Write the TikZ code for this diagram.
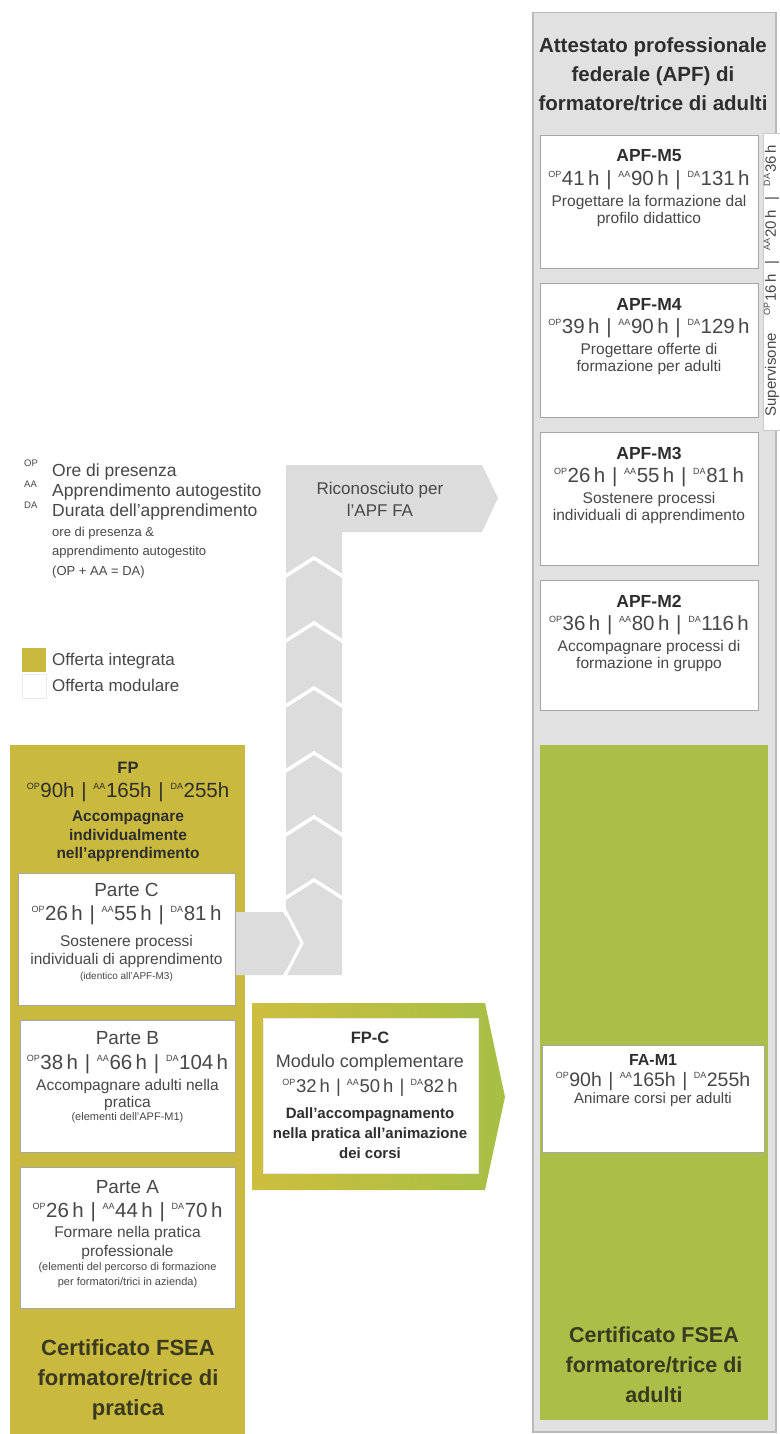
\documentclass[tikz,border=0pt]{standalone}
\usepackage{fontspec}
\setmainfont{Liberation Sans}
\definecolor{panelgray}{HTML}{E1E1E1}
\definecolor{panelline}{HTML}{B9B9B9}
\definecolor{arrowgray}{HTML}{DCDCDC}
\definecolor{fpyellow}{HTML}{C9B93E}
\definecolor{fagreen}{HTML}{ABBE47}
\definecolor{fpcl}{HTML}{CDBE3E}
\definecolor{fpcr}{HTML}{A6BF45}
\definecolor{txtcol}{HTML}{474747}
\definecolor{ttlcol}{HTML}{2E2E2E}
\definecolor{certcol}{HTML}{3A3A20}
\definecolor{boxline}{HTML}{A6A6A6}
\newcommand\sx[1]{\raisebox{0.38em}{\fontsize{9}{9}\selectfont #1}\kern0.6pt}
\newcommand\hsep{\hspace{0.33em}|\hspace{0.33em}}
\newcommand\hrs[3]{\sx{OP}#1\,h\hsep\sx{AA}#2\,h\hsep\sx{DA}#3\,h}
\newcommand\hrsn[3]{\sx{OP}#1h\hsep\sx{AA}#2h\hsep\sx{DA}#3h}
\begin{document}
\begin{tikzpicture}[x=1pt,y=-1pt,
  txt/.style={inner sep=0pt, text=txtcol, align=center},
  ttl/.style={txt, text=ttlcol, font=\bfseries\fontsize{17.5}{20}\selectfont},
  hrsf/.style={txt, font=\fontsize{20.5}{22}\selectfont},
  dsc/.style={txt, font=\fontsize{15.5}{17.5}\selectfont},
  bdsc/.style={txt, text=ttlcol, font=\bfseries\fontsize{15.5}{18.5}\selectfont},
  note/.style={txt, font=\fontsize{10}{15}\selectfont},
  wbox/.style={draw=boxline, fill=white, line width=0.8pt, inner sep=0pt, anchor=north west},
  cert/.style={txt, text=certcol, font=\bfseries\fontsize{21.5}{30}\selectfont},
  leg/.style={inner sep=0pt, text=txtcol, anchor=west, font=\fontsize{17.5}{20}\selectfont},
  legs/.style={inner sep=0pt, text=txtcol, anchor=west, font=\fontsize{13}{15}\selectfont},
  legsup/.style={inner sep=0pt, text=txtcol, anchor=west, font=\fontsize{9.5}{10}\selectfont},
]
\useasboundingbox (0,0) rectangle (779,1434);
\fill[white] (0,0) rectangle (779,1434);

% ---------- right panel ----------
\node[draw=panelline, fill=panelgray, line width=1.5pt, inner sep=0pt, anchor=north west,
      minimum width=243pt, minimum height=1419pt] (panel) at (532,12) {};
\node[txt, text=ttlcol, font=\bfseries\fontsize{20.5}{29}\selectfont] (apf) at (653,74)
  {Attestato professionale\\federale (APF) di\\formatore/trice di adulti};

% APF-M5
\node[wbox, minimum width=218pt, minimum height=133pt] (m5) at (540,135) {};
\node[ttl] (m5t) at (649,156) {APF-M5};
\node[hrsf] (m5h) at (649,180) {\hrs{41}{90}{131}};
\node[dsc] (m5d) at (649,211) {Progettare la formazione dal\\profilo didattico};
% APF-M4
\node[wbox, minimum width=218pt, minimum height=134pt] (m4) at (540,283) {};
\node[ttl] (m4t) at (649,304) {APF-M4};
\node[hrsf] (m4h) at (649,328) {\hrs{39}{90}{129}};
\node[dsc] (m4d) at (649,359) {Progettare offerte di\\formazione per adulti};
% APF-M3
\node[wbox, minimum width=218pt, minimum height=133pt] (m3) at (540,432) {};
\node[ttl] (m3t) at (649,453) {APF-M3};
\node[hrsf] (m3h) at (649,477) {\hrs{26}{55}{81}};
\node[dsc] (m3d) at (649,508) {Sostenere processi\\individuali di apprendimento};
% APF-M2
\node[wbox, minimum width=218pt, minimum height=130pt] (m2) at (540,580) {};
\node[ttl] (m2t) at (649,601) {APF-M2};
\node[hrsf] (m2h) at (649,625) {\hrs{36}{80}{116}};
\node[dsc] (m2d) at (649,656) {Accompagnare processi di\\formazione in gruppo};

% Supervisione strip
\node[draw=boxline!60, fill=white, line width=0.6pt, inner sep=0pt, anchor=north west,
      minimum width=17pt, minimum height=297pt] (sup) at (763,133) {};
\node[txt, rotate=90, font=\fontsize{15}{16}\selectfont] (supt) at (771.5,281)
  {Supervisone\hspace{18pt}\sx{OP}16\,h\hspace{10pt}|\hspace{10pt}\sx{AA}20\,h\hspace{10pt}|\hspace{10pt}\sx{DA}36\,h};

% green FA panel
\node[fill=fagreen, inner sep=0pt, anchor=north west, minimum width=228pt, minimum height=675pt] (fa) at (540,745) {};
\node[wbox, minimum width=222pt, minimum height=107pt] (fam1) at (542,1045) {};
\node[ttl, font=\bfseries\fontsize{16}{18}\selectfont] (fam1t) at (653,1060) {FA-M1};
\node[hrsf, font=\fontsize{19.5}{22}\selectfont] (fam1h) at (653,1081) {\hrsn{90}{165}{255}};
\node[dsc, font=\fontsize{15}{17}\selectfont] (fam1d) at (653,1100) {Animare corsi per adulti};
\node[cert] (facert) at (654,1365) {Certificato FSEA\\formatore/trice di\\adulti};

% ---------- legend ----------
\node[legsup] (lop) at (24,463) {OP};
\node[legsup] (laa) at (24,484) {AA};
\node[legsup] (lda) at (24,505) {DA};
\node[leg] (l1) at (52,472) {Ore di presenza};
\node[leg] (l2) at (52,492) {Apprendimento autogestito};
\node[leg] (l3) at (52,512) {Durata dell'apprendimento};
\node[legs] (l4) at (52,533) {ore di presenza \&};
\node[legs] (l5) at (52,552) {apprendimento autogestito};
\node[legs] (l6) at (52,572) {(OP + AA = DA)};
\node[fill=fpyellow, inner sep=0pt, anchor=north west, minimum size=24pt] (sqy) at (22,648) {};
\node[draw=black!8, fill=white, line width=0.6pt, inner sep=0pt, anchor=north west, minimum size=24pt] (sqw) at (22,674) {};
\node[leg, font=\fontsize{17}{20}\selectfont] (lint) at (52,661) {Offerta integrata};
\node[leg, font=\fontsize{17}{20}\selectfont] (lmod) at (52,685) {Offerta modulare};

% ---------- middle recognition arrow ----------
\fill[arrowgray] (286,465) -- (482,465) -- (498,498) -- (482,532) -- (342,532) -- (342,975) -- (286,975) -- cycle;
\foreach \yy in {558,623,688,753,817,880}
  \draw[white, line width=3.5pt] (284,\yy+19) -- (314,\yy) -- (344,\yy+19);
\node[txt, font=\fontsize{17}{22}\selectfont] (ric) at (380,499) {Riconosciuto per\\l'APF FA};

% ---------- left FP panel ----------
\node[fill=fpyellow, inner sep=0pt, anchor=north west, minimum width=235pt, minimum height=689pt] (fp) at (10,745) {};
\node[ttl, font=\bfseries\fontsize{16.5}{20}\selectfont] (fpt) at (128,768) {FP};
\node[hrsf, text=ttlcol] (fph) at (128,792) {\hrsn{90}{165}{255}};
\node[bdsc] (fpd) at (128,836.5) {Accompagnare\\individualmente\\nell'apprendimento};

% Parte C arrow
\fill[arrowgray] (236,912) -- (283,912) -- (300,943) -- (283,975) -- (236,975) -- cycle;
\draw[white, line width=3pt] (284,908) -- (302,943) -- (284,978);

% Parte C
\node[wbox, minimum width=217pt, minimum height=132pt] (pc) at (18,873) {};
\node[txt, font=\fontsize{19}{22}\selectfont] (pct) at (126.5,890) {Parte C};
\node[hrsf] (pch) at (126.5,915) {\hrs{26}{55}{81}};
\node[dsc, font=\fontsize{15.5}{18}\selectfont] (pcd) at (126.5,951) {Sostenere processi\\individuali di apprendimento};
\node[note] (pcn) at (126.5,977) {(identico all'APF-M3)};
% Parte B
\node[wbox, minimum width=215pt, minimum height=132pt] (pb) at (20,1020) {};
\node[txt, font=\fontsize{19}{22}\selectfont] (pbt) at (127.5,1038) {Parte B};
\node[hrsf] (pbh) at (127.5,1064) {\hrs{38}{66}{104}};
\node[dsc, font=\fontsize{15.5}{17}\selectfont] (pbd) at (127.5,1094.5) {Accompagnare adulti nella\\pratica};
\node[note, font=\fontsize{11}{15}\selectfont] (pbn) at (127.5,1118) {(elementi dell'APF-M1)};
% Parte A
\node[wbox, minimum width=215pt, minimum height=141pt] (pa) at (20,1167) {};
\node[txt, font=\fontsize{19}{22}\selectfont] (pat) at (127.5,1187) {Parte A};
\node[hrsf] (pah) at (127.5,1212) {\hrs{26}{44}{70}};
\node[dsc, font=\fontsize{15.5}{19}\selectfont] (pad) at (127.5,1242.5) {Formare nella pratica\\professionale};
\node[note, font=\fontsize{11}{15}\selectfont] (pan) at (127.5,1275.5) {(elementi del percorso di formazione\\per formatori/trici in azienda)};
\node[cert, font=\bfseries\fontsize{22}{30}\selectfont] (fpcert) at (128,1380) {Certificato FSEA\\formatore/trice di\\pratica};

% ---------- FP-C arrow ----------
\shade[left color=fpcl, right color=fpcr] (252,1003) -- (485,1003) -- (505,1097) -- (485,1190) -- (252,1190) -- cycle;
\node[fill=white, draw=white!92!black, line width=0.6pt, inner sep=0pt, anchor=north west,
      minimum width=215pt, minimum height=155pt] (fpc) at (263,1018) {};
\node[ttl, font=\bfseries\fontsize{16.5}{20}\selectfont] (fpct) at (370,1038) {FP-C};
\node[txt, font=\fontsize{18}{20}\selectfont] (fpcm) at (370,1063) {Modulo complementare};
\node[hrsf, font=\fontsize{18.5}{20}\selectfont] (fpch) at (370,1088) {\hrs{32}{50}{82}};
\node[bdsc, font=\bfseries\fontsize{15}{20}\selectfont] (fpcd) at (370,1133) {Dall'accompagnamento\\nella pratica all'animazione\\dei corsi};
\end{tikzpicture}
\end{document}
